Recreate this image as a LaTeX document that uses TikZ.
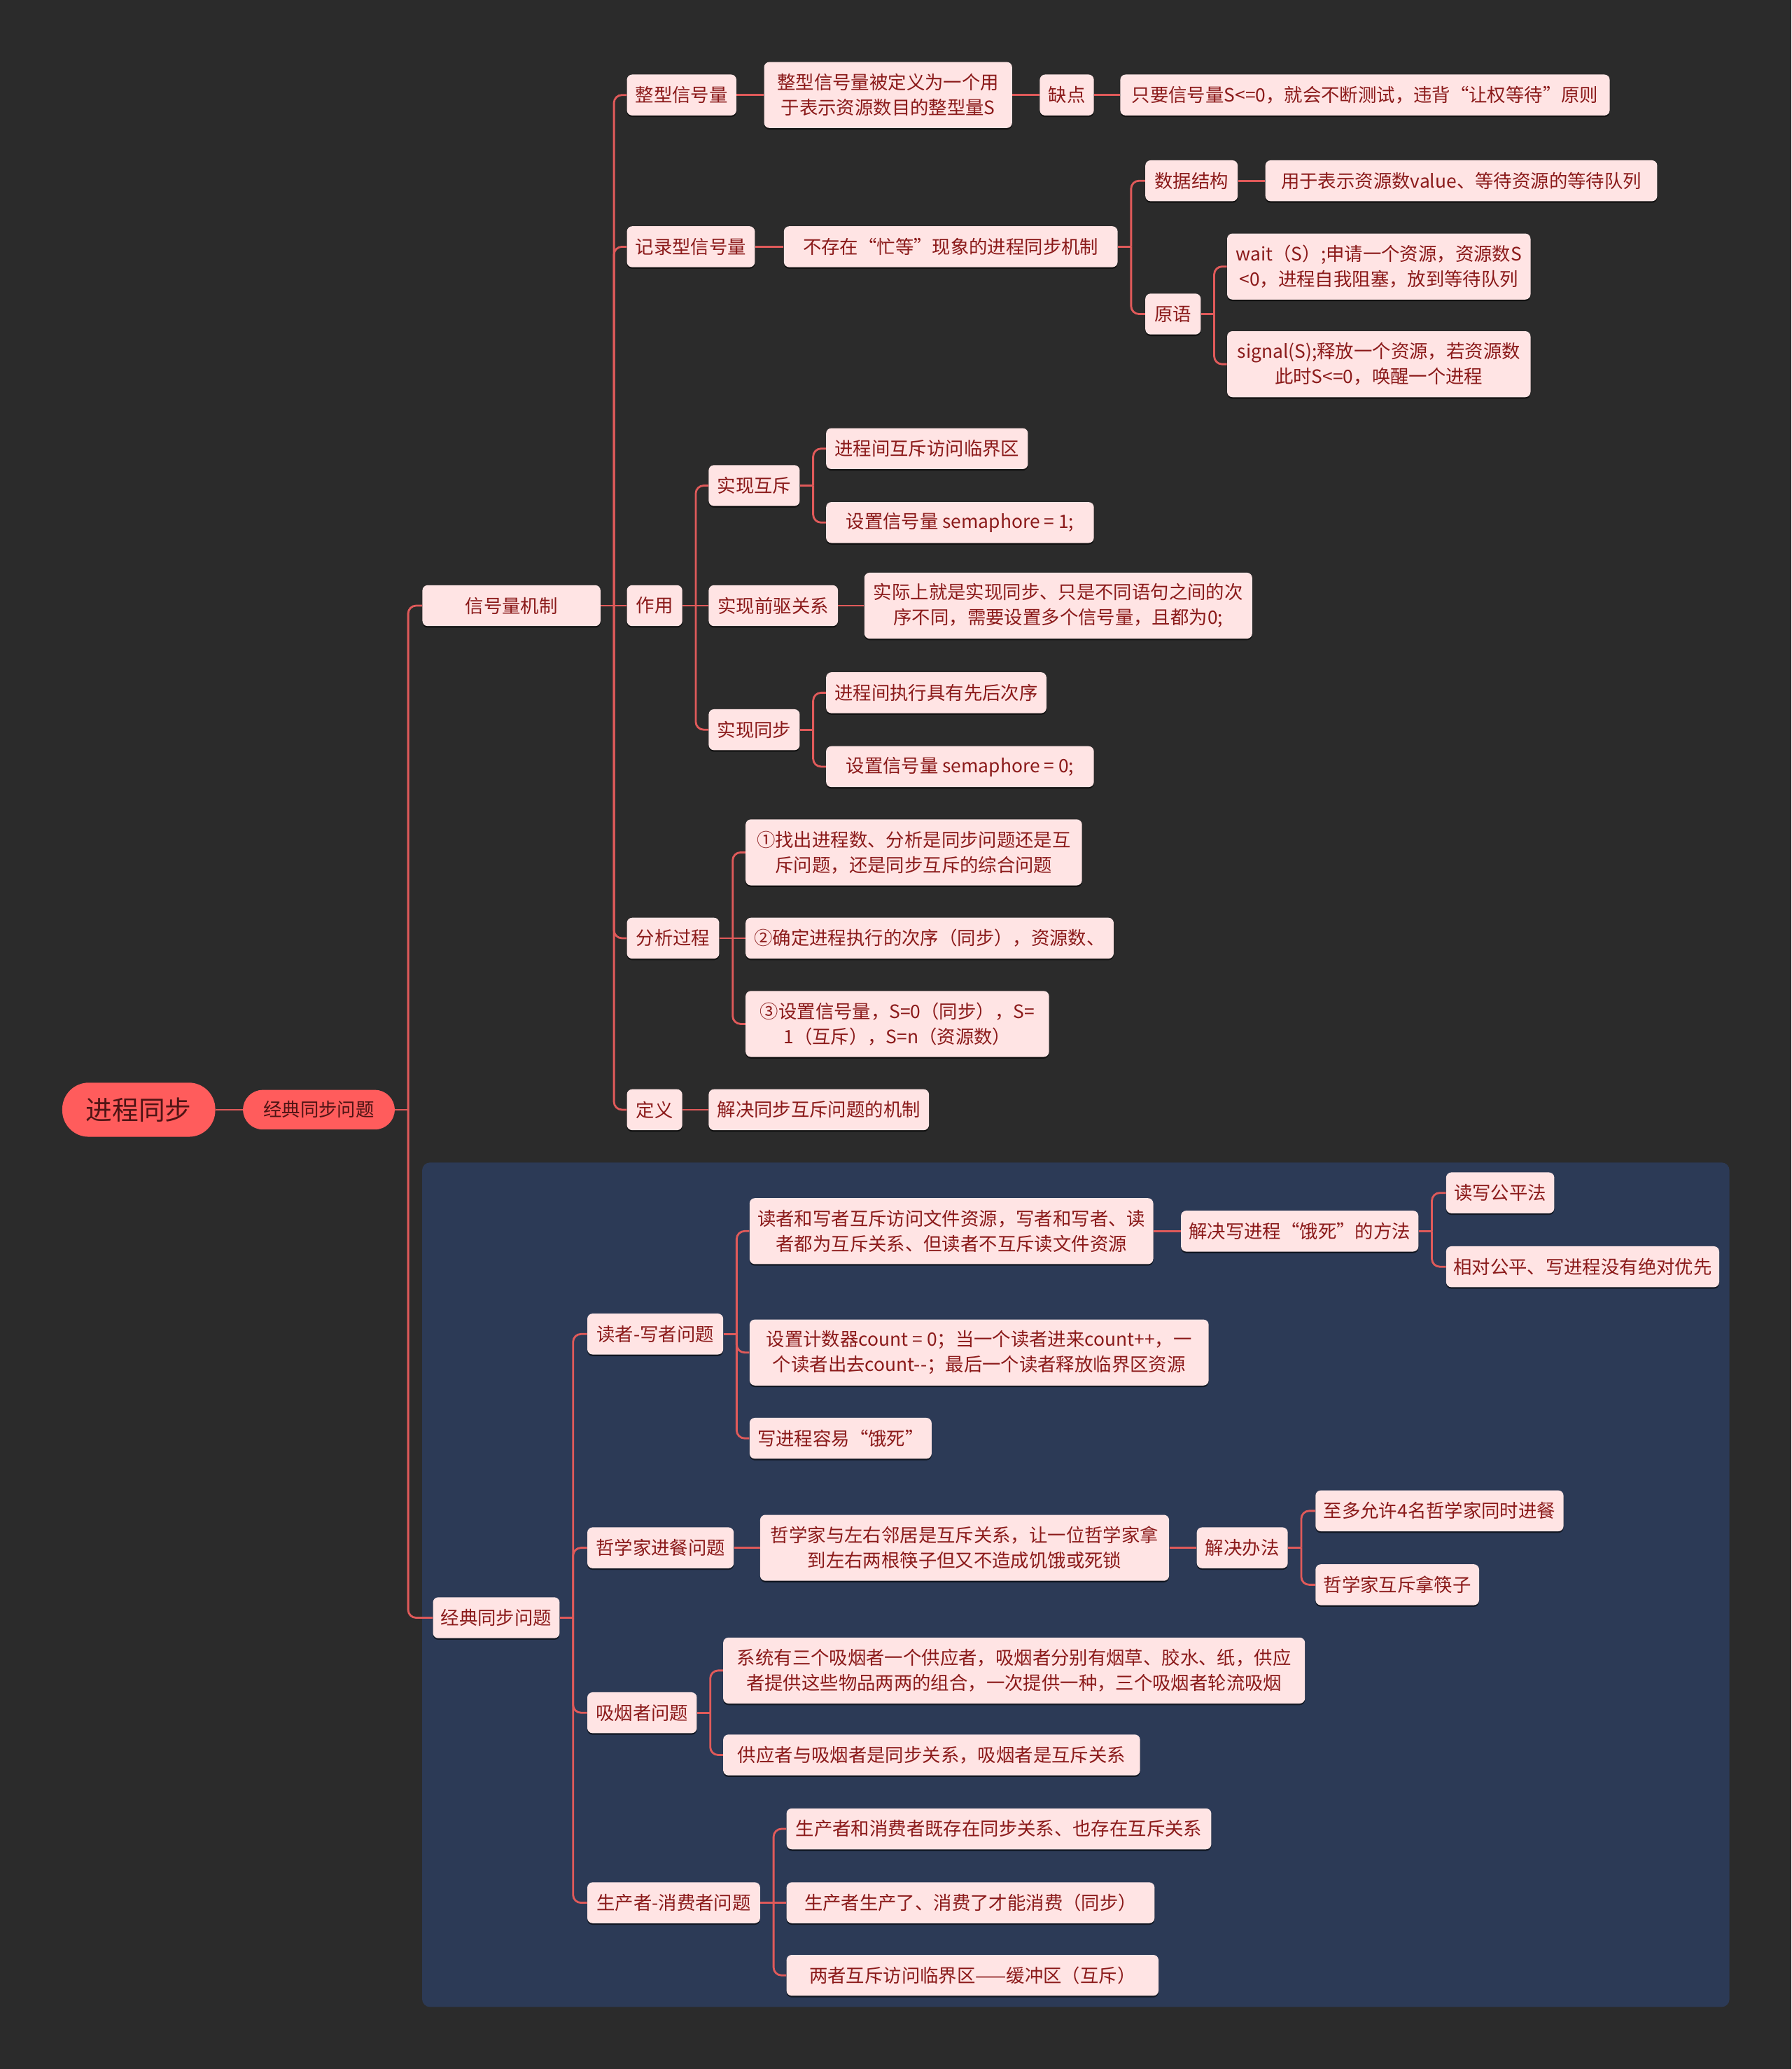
\documentclass[tikz,border=0pt]{standalone}
\usepackage{fontspec}
\setmainfont{Noto Sans CJK SC}
\usetikzlibrary{calc,shadows}
\definecolor{bg}{HTML}{2B2B2B}
\definecolor{panel}{HTML}{2C3A56}
\definecolor{nfill}{HTML}{FFE4E4}
\definecolor{ntext}{HTML}{8B1A1A}
\definecolor{rfill}{HTML}{FF5C5C}
\definecolor{rtext}{HTML}{4E1414}
\definecolor{linec}{HTML}{E05A5A}
\tikzset{
 nd/.style={fill=nfill, text=ntext, rounded corners=4, font=\fontsize{14}{19}\selectfont, align=center, anchor=west, minimum height=31, inner xsep=0, inner ysep=3, drop shadow={shadow xshift=0pt, shadow yshift=-1.2pt, opacity=0.6, fill=black}},
 two/.style={minimum height=50},
 mw/.style={minimum width=#1},
 rootnd/.style={fill=rfill, text=rtext, rounded corners=20, font=\fontsize{20}{24}\selectfont, minimum height=41, minimum width=116, inner xsep=0, anchor=west},
 rchild/.style={fill=rfill, text=rtext, rounded corners=15, font=\fontsize{14}{19}\selectfont, minimum height=30, minimum width=115, inner xsep=0, anchor=west},
 conn/.style={draw=linec, line width=1.5},
}
\newcommand\brch[2]{\draw[conn] (#1.east) -- ($(#1.east)+(10,0)$); \draw[conn,rounded corners=6] ($(#1.east)+(10,0)$) |- (#2.west);}
\newcommand\strt[2]{\draw[conn] (#1.east) -- (#2.west);}
\begin{document}
\begin{tikzpicture}[x=1pt,y=-1pt]
\fill[bg] (0,0) rectangle (1358,1568);
\useasboundingbox (0,0) rectangle (1358,1568);
\fill[panel, rounded corners=6] (320,881) rectangle (1311,1521);

\node[rootnd] (r) at (47,841) {进程同步};
\node[rchild] (c1) at (184,841) {经典同步问题};
\node[nd,mw=135] (s) at (320,459) {信号量机制};
\node[nd,mw=96] (k) at (328,1226) {经典同步问题};

\node[nd,mw=83] (a1) at (475,72) {整型信号量};
\node[nd,two,mw=188] (a1t) at (579,72) {整型信号量被定义为一个用\\于表示资源数目的整型量S};
\node[nd,mw=41] (a1q) at (788,72) {缺点};
\node[nd,mw=371] (a1r) at (849,72) {只要信号量S<=0，就会不断测试，违背“让权等待”原则};

\node[nd,mw=97] (a2) at (475,187) {记录型信号量};
\node[nd,mw=253] (a2t) at (594,187) {不存在“忙等”现象的进程同步机制};
\node[nd,mw=70] (a2d) at (868,137) {数据结构};
\node[nd,mw=297] (a2dv) at (959,137) {用于表示资源数value、等待资源的等待队列};
\node[nd,mw=42] (a2p) at (868,238) {原语};
\node[nd,two,mw=230] (a2w) at (930,202) {wait（S）;申请一个资源，资源数S\\<0，进程自我阻塞，放到等待队列};
\node[nd,two,mw=230] (a2s) at (930,276) {signal(S);释放一个资源，若资源数\\此时S<=0，唤醒一个进程};

\node[nd,mw=42] (a3) at (475,459) {作用};
\node[nd,mw=69] (a3a) at (537,368) {实现互斥};
\node[nd,mw=153] (a3a1) at (626,340) {进程间互斥访问临界区};
\node[nd,mw=203] (a3a2) at (626,396) {设置信号量 semaphore = 1;};
\node[nd,mw=98] (a3b) at (537,459) {实现前驱关系};
\node[nd,two,mw=294] (a3b1) at (655,459) {实际上就是实现同步、只是不同语句之间的次\\序不同，需要设置多个信号量，且都为0;};
\node[nd,mw=69] (a3c) at (537,553) {实现同步};
\node[nd,mw=167] (a3c1) at (626,525) {进程间执行具有先后次序};
\node[nd,mw=203] (a3c2) at (626,581) {设置信号量 semaphore = 0;};

\node[nd,mw=70] (a4) at (475,711) {分析过程};
\node[nd,two,mw=255] (a4a) at (565,646) {①找出进程数、分析是同步问题还是互\\斥问题，还是同步互斥的综合问题};
\node[nd,mw=279] (a4b) at (565,711) {②确定进程执行的次序（同步），资源数、};
\node[nd,two,mw=230] (a4c) at (565,776) {③设置信号量，S=0（同步），S=\\1（互斥），S=n（资源数）};

\node[nd,mw=42] (a5) at (475,841) {定义};
\node[nd,mw=167] (a5a) at (537,841) {解决同步互斥问题的机制};

\node[nd,mw=103] (b1) at (445,1011) {读者-写者问题};
\node[nd,two,mw=306] (b1a) at (568,933) {读者和写者互斥访问文件资源，写者和写者、读\\者都为互斥关系、但读者不互斥读文件资源};
\node[nd,mw=180] (b1a1) at (895,933) {解决写进程“饿死”的方法};
\node[nd,mw=82] (b1a1a) at (1096,904) {读写公平法};
\node[nd,mw=207] (b1a1b) at (1096,960) {相对公平、写进程没有绝对优先};
\node[nd,two,mw=348] (b1b) at (568,1025) {设置计数器count = 0；当一个读者进来count++，一\\个读者出去count-\kern0pt-；最后一个读者释放临界区资源};
\node[nd,mw=138] (b1c) at (568,1090) {写进程容易“饿死”};

\node[nd,mw=111] (b2) at (445,1173) {哲学家进餐问题};
\node[nd,two,mw=310] (b2a) at (576,1173) {哲学家与左右邻居是互斥关系，让一位哲学家拿\\到左右两根筷子但又不造成饥饿或死锁};
\node[nd,mw=69] (b2a1) at (907,1173) {解决办法};
\node[nd,mw=188] (b2a1a) at (997,1145) {至多允许4名哲学家同时进餐};
\node[nd,mw=124] (b2a1b) at (997,1201) {哲学家互斥拿筷子};

\node[nd,mw=83] (b3) at (445,1298) {吸烟者问题};
\node[nd,two,mw=441] (b3a) at (548,1266) {系统有三个吸烟者一个供应者，吸烟者分别有烟草、胶水、纸，供应\\者提供这些物品两两的组合，一次提供一种，三个吸烟者轮流吸烟};
\node[nd,mw=316] (b3b) at (548,1330) {供应者与吸烟者是同步关系，吸烟者是互斥关系};

\node[nd,mw=131] (b4) at (445,1442) {生产者-消费者问题};
\node[nd,mw=322] (b4a) at (596,1386) {生产者和消费者既存在同步关系、也存在互斥关系};
\node[nd,mw=279] (b4b) at (596,1442) {生产者生产了、消费了才能消费（同步）};
\node[nd,mw=282] (b4c) at (596,1497) {两者互斥访问临界区——缓冲区（互斥）};

\strt{r}{c1}
\brch{c1}{s} \brch{c1}{k}
\brch{s}{a1} \brch{s}{a2} \strt{s}{a3} \brch{s}{a4} \brch{s}{a5}
\strt{a1}{a1t} \strt{a1t}{a1q} \strt{a1q}{a1r}
\strt{a2}{a2t} \brch{a2t}{a2d} \brch{a2t}{a2p} \strt{a2d}{a2dv}
\brch{a2p}{a2w} \brch{a2p}{a2s}
\brch{a3}{a3a} \strt{a3}{a3b} \brch{a3}{a3c}
\brch{a3a}{a3a1} \brch{a3a}{a3a2} \strt{a3b}{a3b1}
\brch{a3c}{a3c1} \brch{a3c}{a3c2}
\brch{a4}{a4a} \strt{a4}{a4b} \brch{a4}{a4c}
\strt{a5}{a5a}
\brch{k}{b1} \brch{k}{b2} \brch{k}{b3} \brch{k}{b4}
\brch{b1}{b1a} \brch{b1}{b1b} \brch{b1}{b1c}
\strt{b1a}{b1a1} \brch{b1a1}{b1a1a} \brch{b1a1}{b1a1b}
\strt{b2}{b2a} \strt{b2a}{b2a1} \brch{b2a1}{b2a1a} \brch{b2a1}{b2a1b}
\brch{b3}{b3a} \brch{b3}{b3b}
\brch{b4}{b4a} \strt{b4}{b4b} \brch{b4}{b4c}
\end{tikzpicture}
\end{document}
